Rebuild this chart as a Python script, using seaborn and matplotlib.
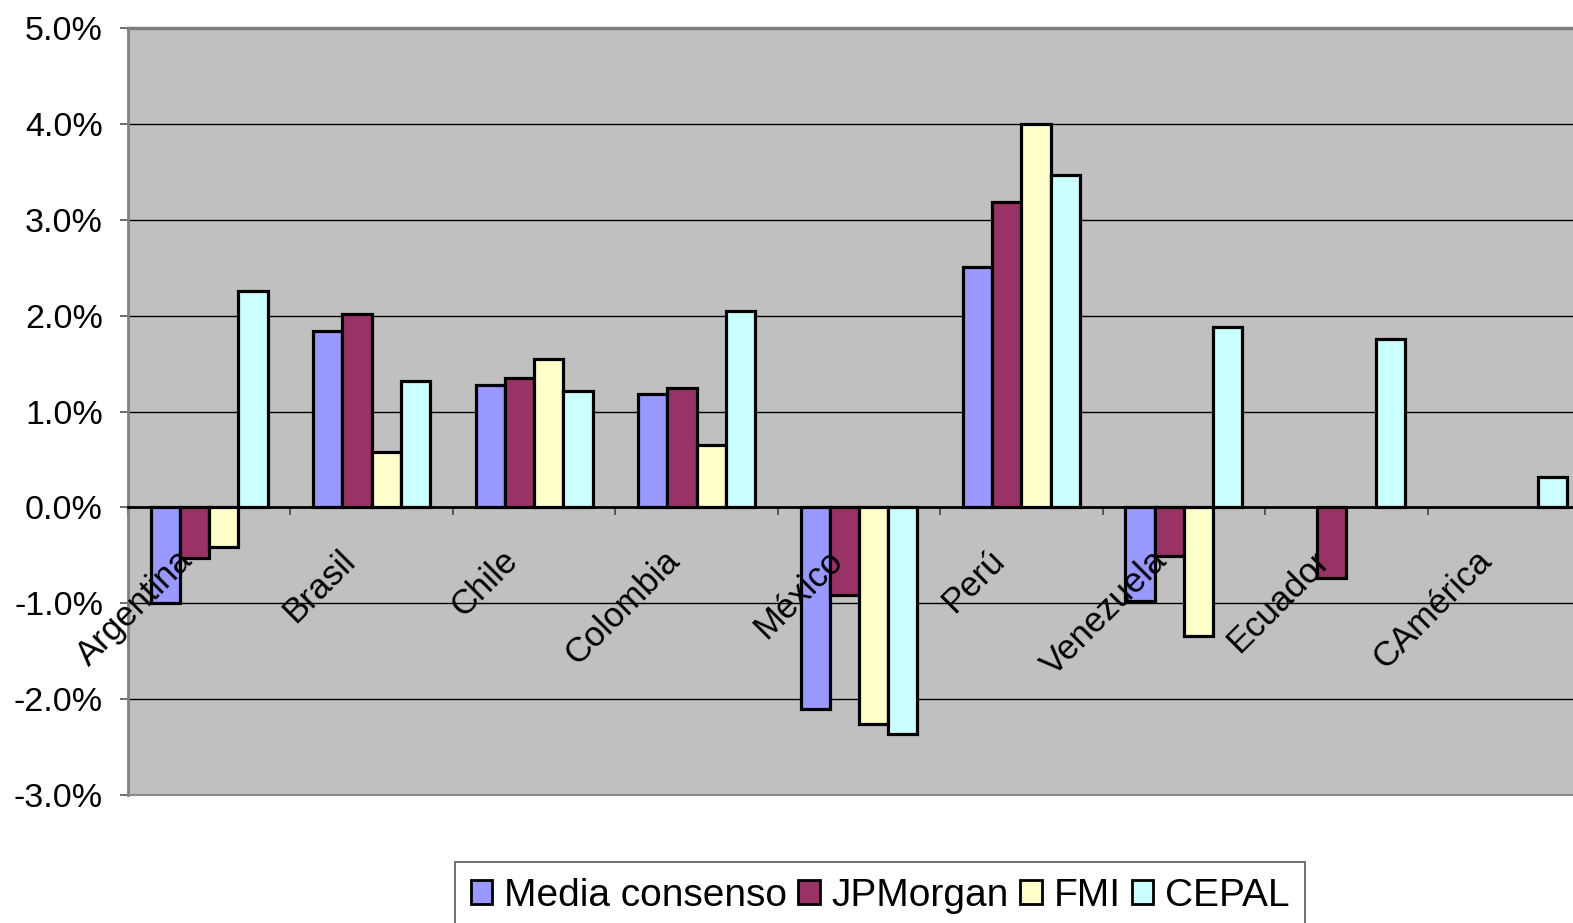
import numpy as np
import pandas as pd
import matplotlib
matplotlib.use("Agg")
import matplotlib.pyplot as plt
from matplotlib.transforms import offset_copy
import seaborn as sns

# Growth forecasts by country and source (fraction, shown as %)
countries = ["Argentina", "Brasil", "Chile", "Colombia", "México",
             "Perú", "Venezuela", "Ecuador", "CAmérica"]
sources = ["Media consenso", "JPMorgan", "FMI", "CEPAL"]

media_consenso = [-1.00, 1.84, 1.28, 1.18, -2.10, 2.51, -0.98, np.nan, np.nan]
jpmorgan = [-0.53, 2.02, 1.35, 1.25, -0.91, 3.18, -0.51, -0.74, np.nan]
fmi = [-0.41, 0.58, 1.55, 0.65, -2.26, 4.00, -1.34, np.nan, np.nan]
cepal = [2.26, 1.32, 1.21, 2.05, -2.36, 3.47, 1.88, 1.76, 0.32]

y_ticks = [-3, -2, -1, 0, 1, 2, 3, 4, 5]
y_tick_labels = ["-3.0%", "-2.0%", "-1.0%", "0.0%", "1.0%", "2.0%",
                 "3.0%", "4.0%", "5.0%"]

colors = {"Media consenso": "#9999FF", "JPMorgan": "#993366",
          "FMI": "#FFFFCC", "CEPAL": "#CCFFFF"}

rows = []
for src, vals in zip(sources, [media_consenso, jpmorgan, fmi, cepal]):
    for c, v in zip(countries, vals):
        if not np.isnan(v):
            rows.append({"País": c, "Fuente": src, "Valor": v})
df = pd.DataFrame(rows)

sns.set_style("white")
plt.rcParams["font.family"] = ["Liberation Sans", "DejaVu Sans"]
plt.rcParams["text.color"] = "black"
plt.rcParams["xtick.color"] = "black"
plt.rcParams["ytick.color"] = "black"
plt.rcParams["xtick.labelcolor"] = "black"
plt.rcParams["ytick.labelcolor"] = "black"

W, H = 1573, 923
fig = plt.figure(figsize=(W / 100, H / 100), dpi=100)
ax = fig.add_axes([128 / W, 1 - 795 / H, 1462 / W, 767 / H])
ax.set_facecolor("#C0C0C0")

sns.barplot(data=df, x="País", y="Valor", hue="Fuente", order=countries,
            hue_order=sources, palette=colors, saturation=1, width=0.72,
            dodge=True, errorbar=None, edgecolor="black", linewidth=2.3,
            ax=ax)

ax.set_xlim(-0.5, len(countries) - 0.5)
ax.set_ylim(-3, 5)
ax.set_xlabel("")
ax.set_ylabel("")

# Horizontal gridlines
ax.set_yticks(y_ticks)
ax.set_yticklabels(y_tick_labels, fontsize=24.5, color="black")
ax.yaxis.grid(True, color="black", linewidth=1.0)
ax.xaxis.grid(False)
ax.set_axisbelow(True)
ax.tick_params(axis="y", direction="out", length=6, width=1.2,
               color="#555555", pad=12, left=True)

# Category axis drawn along the zero line, ticks at the group boundaries
ax.spines["bottom"].set_position(("data", 0))
ax.spines["bottom"].set_color("black")
ax.spines["bottom"].set_linewidth(2.0)
ax.spines["bottom"].set_zorder(3)
ax.set_xticks(np.arange(len(countries) + 1) - 0.5)
ax.set_xticklabels([])
ax.tick_params(axis="x", direction="out", length=6, width=1.2,
               color="#444444", bottom=True)

# Plot-area frame
ax.spines["top"].set_color("#808080")
ax.spines["top"].set_linewidth(2.5)
ax.spines["left"].set_color("#808080")
ax.spines["left"].set_linewidth(2.0)
ax.spines["right"].set_visible(False)
ax.axhline(-3, color="#8a8a8a", linewidth=1.5, clip_on=False, zorder=3)

# Rotated category names beside the zero line
label_tr = offset_copy(ax.transData, fig=fig, x=-22, y=-48, units="dots")
for i, name in enumerate(countries):
    ax.text(i, 0, name, transform=label_tr, rotation=45,
            rotation_mode="anchor", ha="right", va="center",
            fontsize=25, color="black", zorder=4)

# Legend below the chart
handles, labels = ax.get_legend_handles_labels()
if ax.get_legend() is not None:
    ax.get_legend().remove()
for h in handles:
    h.set_edgecolor("black")
    h.set_linewidth(2.0)
leg = fig.legend(handles, labels, loc="upper center",
                 bbox_to_anchor=(880 / W, 1 - 862 / H), ncol=4,
                 fontsize=28, frameon=True, fancybox=False, shadow=False,
                 handlelength=0.55, handleheight=0.55, handletextpad=0.3,
                 columnspacing=0.3, borderpad=0.4, borderaxespad=0,
                 labelcolor="black")
leg.get_frame().set_edgecolor("#404040")
leg.get_frame().set_linewidth(1.3)
leg.get_frame().set_facecolor("white")

fig.savefig("out.png", dpi=100, facecolor="white")
